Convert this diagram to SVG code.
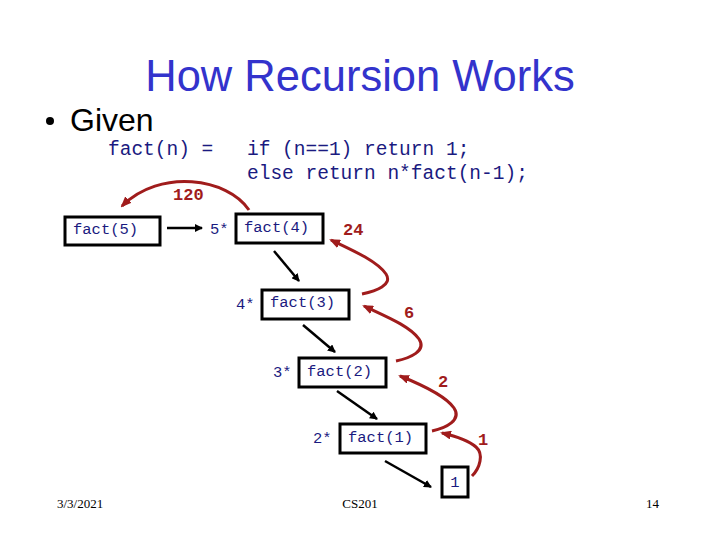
<svg xmlns="http://www.w3.org/2000/svg" width="720" height="540" viewBox="0 0 720 540">
<style>
.title{font-family:"Liberation Sans",Arial,sans-serif;font-size:43.5px;fill:#3333cc}
.bullet{font-family:"Liberation Sans",Arial,sans-serif;font-size:32px;fill:#000}
.code{font-family:"Liberation Mono","Courier New",monospace;font-size:19.5px;fill:#1a1a80}
.box{fill:#fff;stroke:#000;stroke-width:3}
.lbl{font-family:"Liberation Mono","Courier New",monospace;font-size:15.5px;fill:#1a1a80}
.val{font-family:"Liberation Mono","Courier New",monospace;font-size:17px;font-weight:bold;fill:#a01c1c}
.foot{font-family:"Liberation Serif","Times New Roman",serif;font-size:13px;fill:#000}
.blk{stroke:#000;stroke-width:2.5;fill:none;marker-end:url(#ab)}
.red{stroke:#a01c1c;stroke-width:3;fill:none;marker-end:url(#ar)}
</style>
<defs>
<marker id="ab" markerWidth="8" markerHeight="8" refX="7" refY="4" orient="auto" markerUnits="userSpaceOnUse" viewBox="0 0 8 8"><path d="M0,0 L8,4 L0,8 z" fill="#000"/></marker>
<marker id="ar" markerWidth="11" markerHeight="9" refX="9" refY="4.5" orient="auto" markerUnits="userSpaceOnUse" viewBox="0 0 11 9"><path d="M0,0 L11,4.5 L0,9 z" fill="#a01c1c"/></marker>
</defs>
<rect width="720" height="540" fill="#fff"/>
<text class="title" x="360" y="91" text-anchor="middle">How Recursion Works</text>
<circle cx="50" cy="121" r="4" fill="#000"/>
<text class="bullet" x="70" y="131">Given</text>
<text class="code" x="108" y="155">fact(n) =</text>
<text class="code" x="247" y="155">if (n==1) return 1;</text>
<text class="code" x="247" y="179">else return n*fact(n-1);</text>

<g id="connectors">
<line class="blk" x1="167" y1="228" x2="202" y2="228"/>
<line class="blk" x1="274" y1="251" x2="299" y2="281"/>
<line class="blk" x1="303" y1="325" x2="335" y2="352"/>
<line class="blk" x1="337" y1="391" x2="377" y2="419"/>
<line class="blk" x1="385" y1="461" x2="431" y2="487"/>
<path class="red" d="M249,210 C228,178 160,168 122,206"/>
<path class="red" d="M362,294 C376,291 393,285 386,274 C377,261 352,250 331,240"/>
<path class="red" d="M396,361 C410,358 427,351 419,339 C410,326 385,316 364,306"/>
<path class="red" d="M432,431 C446,428 462,420 454,408 C445,395 420,384 400,376"/>
<path class="red" d="M472,476 C480,468 484,454 476,447 C468,440 455,436 442,433"/>
</g>
<text class="val" x="173" y="200">120</text>
<text class="val" x="343" y="235">24</text>
<text class="val" x="404" y="318">6</text>
<text class="val" x="438" y="387">2</text>
<text class="val" x="478" y="445">1</text>

<g id="fact5"><rect class="box" x="65" y="217" width="95" height="28"/><text class="lbl" x="73" y="234">fact(5)</text></g>
<g id="fact4"><text class="lbl" x="210" y="234">5*</text><rect class="box" x="236" y="214" width="87" height="29"/><text class="lbl" x="244" y="232">fact(4)</text></g>
<g id="fact3"><text class="lbl" x="236" y="309">4*</text><rect class="box" x="262" y="290" width="87" height="29"/><text class="lbl" x="270" y="307">fact(3)</text></g>
<g id="fact2"><text class="lbl" x="273" y="377">3*</text><rect class="box" x="299" y="358" width="87" height="29"/><text class="lbl" x="307" y="376">fact(2)</text></g>
<g id="fact1"><text class="lbl" x="313" y="443">2*</text><rect class="box" x="340" y="424" width="86" height="29"/><text class="lbl" x="348" y="442">fact(1)</text></g>
<g id="one"><rect class="box" x="442" y="467" width="26" height="30"/><text class="lbl" x="455" y="487" text-anchor="middle">1</text></g>

<text class="foot" x="57" y="508">3/3/2021</text>
<text class="foot" x="360" y="508" text-anchor="middle">CS201</text>
<text class="foot" x="659" y="508" text-anchor="end">14</text>
</svg>
